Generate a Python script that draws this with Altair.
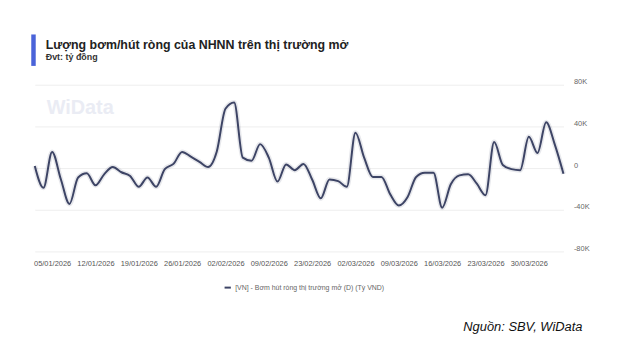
import altair as alt
import pandas as pd

dates = [
    "31/12/2025", "02/01/2026",
    "05/01/2026", "06/01/2026", "07/01/2026", "08/01/2026", "09/01/2026",
    "12/01/2026", "13/01/2026", "14/01/2026", "15/01/2026", "16/01/2026",
    "19/01/2026", "20/01/2026", "21/01/2026", "22/01/2026", "23/01/2026",
    "26/01/2026", "27/01/2026", "28/01/2026", "29/01/2026", "30/01/2026",
    "02/02/2026", "03/02/2026", "04/02/2026", "05/02/2026", "06/02/2026",
    "09/02/2026", "10/02/2026", "11/02/2026", "12/02/2026", "13/02/2026",
    "23/02/2026", "24/02/2026", "25/02/2026", "26/02/2026", "27/02/2026",
    "02/03/2026", "03/03/2026", "04/03/2026", "05/03/2026", "06/03/2026",
    "09/03/2026", "10/03/2026", "11/03/2026", "12/03/2026", "13/03/2026",
    "16/03/2026", "17/03/2026", "18/03/2026", "19/03/2026", "20/03/2026",
    "23/03/2026", "24/03/2026", "25/03/2026", "26/03/2026", "27/03/2026",
    "30/03/2026", "31/03/2026", "01/04/2026", "02/04/2026", "03/04/2026",
]

values = [
    2000, -19000,
    15500, -10500, -34500, -9000, -5000,
    -16500, -6000, 1000, -4000, -7500,
    -18000, -9000, -18000, -1000, 4000,
    15500, 11000, 6000, 1000, 16000,
    57000, 63000, 10000, 7000, 23000,
    10000, -13000, 3500, -2000, 4000,
    -11000, -29000, -11000, -12500, -18000,
    34000, 10000, -8500, -8500, -25000,
    -36000, -28000, -8500, -4500, -4500,
    -38000, -15500, -7000, -6000, -15000,
    -26000, 25000, 3000, -1000, -2000,
    30000, 14500, 44000, 22500, -5500,
]

tick_dates = ["05/01/2026", "12/01/2026", "19/01/2026", "26/01/2026", "02/02/2026",
              "09/02/2026", "23/02/2026", "02/03/2026", "09/03/2026", "16/03/2026",
              "23/03/2026", "30/03/2026"]
y_ticks = [-80000, -40000, 0, 40000, 80000]

series_name = "[VN] - Bơm hút ròng thị trường mở (D) (Tỷ VND)"
title_text = "Lượng bơm/hút ròng của NHNN trên thị trường mở"
subtitle_text = "Đvt: tỷ đồng"
source_text = "Nguồn: SBV, WiData"
watermark_text = "WiData"

FONT = "Liberation Sans"
LINE_COLOR = "#3d4465"

df = pd.DataFrame({"date": dates, "value": values, "series": [series_name] * len(dates)})
one = pd.DataFrame({"a": [0]})

x_enc = alt.X("date:O", sort=None,
              scale=alt.Scale(type="point", padding=0),
              axis=alt.Axis(values=tick_dates, title=None, labelAngle=0, labelFontSize=7.5,
                            labelColor="#555555", labelFont=FONT, ticks=False, domain=False,
                            grid=False, labelPadding=8, labelOverlap=False))
y_enc = alt.Y("value:Q",
              scale=alt.Scale(domain=[-80000, 80000], nice=False),
              axis=alt.Axis(values=y_ticks, orient="right", title=None, labelFontSize=7.5,
                            labelColor="#666666", labelFont=FONT, ticks=False, domain=False,
                            grid=True, gridColor="#eeeeee", gridWidth=1, labelPadding=10,
                            labelOffset=-3,
                            labelExpr="datum.value == 0 ? '0' : (datum.value/1000) + 'K'"))

base = alt.Chart(df)

glow = base.mark_line(interpolate="monotone", strokeWidth=5, opacity=0.12, color=LINE_COLOR).encode(
    x=x_enc, y=y_enc)

line = base.mark_line(interpolate="monotone", strokeWidth=2).encode(
    x=x_enc, y=y_enc,
    color=alt.Color("series:N", scale=alt.Scale(range=[LINE_COLOR]),
                    legend=alt.Legend(orient="none", legendX=190, legendY=200, title=None,
                                      symbolType="stroke", symbolStrokeWidth=2, symbolSize=40,
                                      labelFontSize=7, labelColor="#666666", labelFont=FONT,
                                      labelOffset=3)))

watermark = alt.Chart(one).mark_text(text=watermark_text, font=FONT, fontSize=20, fontWeight="bold",
                                     color="#eaecf4", align="left", baseline="alphabetic").encode(
    x=alt.value(12), y=alt.value(29))

bar = alt.Chart(one).mark_rule(color="#4a63d9", strokeWidth=4.5).encode(
    x=alt.value(-1.3), y=alt.value(-50.7), y2=alt.value(-19))

title = alt.Chart(one).mark_text(text=title_text, font=FONT, fontSize=12.5, fontWeight="bold",
                                 color="#222222", align="left", baseline="alphabetic").encode(
    x=alt.value(11), y=alt.value(-36.5))

subtitle = alt.Chart(one).mark_text(text=subtitle_text, font=FONT, fontSize=9, fontWeight="bold",
                                    color="#333333", align="left", baseline="alphabetic").encode(
    x=alt.value(11), y=alt.value(-24.5))

source = alt.Chart(one).mark_text(text=source_text, font=FONT, fontSize=13, fontStyle="italic",
                                  color="#111111", align="left", baseline="alphabetic").encode(
    x=alt.value(432), y=alt.value(248.5))

chart = alt.layer(watermark, glow, line, bar, title, subtitle, source).properties(
    width=533, height=168,
    padding={"left": 27, "top": 76, "right": 60, "bottom": 95},
    autosize="none",
    background="white",
).configure_view(strokeWidth=0, stroke="transparent")

chart.save("out.html", embed_options={"renderer": "svg", "actions": False})
